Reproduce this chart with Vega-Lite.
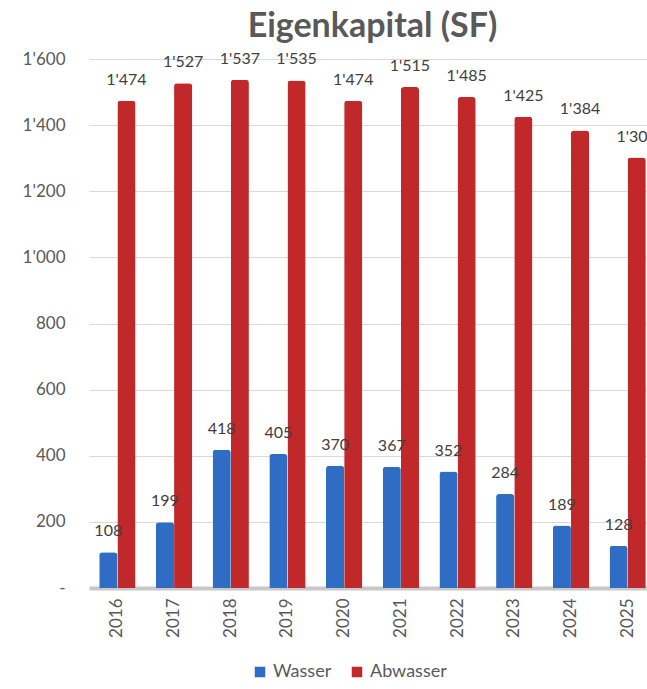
{
  "$schema": "https://vega.github.io/schema/vega-lite/v6.json",
  "width": 567,
  "height": 529,
  "autosize": "none",
  "padding": {"left": 89, "top": 59, "right": 0, "bottom": 101},
  "background": "white",
  "config": {
    "locale": {"number": {"decimal": ".", "thousands": "'", "grouping": [3], "currency": ["", ""]}},
    "view": {"stroke": null},
    "font": "Lato"
  },
  "title": {"text": "Eigenkapital (SF)", "fontSize": 34, "font": "Lato", "fontWeight": "bold", "color": "#595959", "offset": 6},
  "data": {"values": [
    {"Jahr": "2016", "Art": "Wasser", "Wert": 108},
    {"Jahr": "2017", "Art": "Wasser", "Wert": 199},
    {"Jahr": "2018", "Art": "Wasser", "Wert": 418},
    {"Jahr": "2019", "Art": "Wasser", "Wert": 405},
    {"Jahr": "2020", "Art": "Wasser", "Wert": 370},
    {"Jahr": "2021", "Art": "Wasser", "Wert": 367},
    {"Jahr": "2022", "Art": "Wasser", "Wert": 352},
    {"Jahr": "2023", "Art": "Wasser", "Wert": 284},
    {"Jahr": "2024", "Art": "Wasser", "Wert": 189},
    {"Jahr": "2025", "Art": "Wasser", "Wert": 128},
    {"Jahr": "2016", "Art": "Abwasser", "Wert": 1474},
    {"Jahr": "2017", "Art": "Abwasser", "Wert": 1527},
    {"Jahr": "2018", "Art": "Abwasser", "Wert": 1537},
    {"Jahr": "2019", "Art": "Abwasser", "Wert": 1535},
    {"Jahr": "2020", "Art": "Abwasser", "Wert": 1474},
    {"Jahr": "2021", "Art": "Abwasser", "Wert": 1515},
    {"Jahr": "2022", "Art": "Abwasser", "Wert": 1485},
    {"Jahr": "2023", "Art": "Abwasser", "Wert": 1425},
    {"Jahr": "2024", "Art": "Abwasser", "Wert": 1384},
    {"Jahr": "2025", "Art": "Abwasser", "Wert": 1302}
  ]},
  "encoding": {
    "x": {
      "field": "Jahr", "type": "nominal", "title": null,
      "scale": {"paddingInner": 0.36, "paddingOuter": 0.18},
      "axis": {"labelAngle": -90, "labelFontSize": 17, "labelColor": "#595959", "labelFont": "Lato", "ticks": false, "domainColor": "#c8c8c8", "domainWidth": 4, "labelPadding": 10}
    },
    "xOffset": {"field": "Art", "type": "nominal", "sort": ["Wasser", "Abwasser"]},
    "y": {
      "field": "Wert", "type": "quantitative", "title": null,
      "scale": {"domain": [0, 1600], "nice": false},
      "axis": {"values": [0, 200, 400, 600, 800, 1000, 1200, 1400, 1600], "format": ",d", "labelExpr": "datum.value == 0 ? '-' : datum.label", "labelFontSize": 17, "labelColor": "#595959", "labelFont": "Lato", "ticks": false, "domain": false, "gridColor": "#d9d9d9", "labelPadding": 24}
    }
  },
  "layer": [
    {
      "mark": {"type": "bar", "cornerRadiusTopLeft": 3, "cornerRadiusTopRight": 3},
      "encoding": {
        "color": {
          "field": "Art", "type": "nominal", "title": null,
          "sort": ["Wasser", "Abwasser"],
          "scale": {"domain": ["Wasser", "Abwasser"], "range": ["#2f6cc4", "#c0282a"]},
          "legend": {"orient": "none", "legendX": 162, "legendY": 604, "direction": "horizontal", "symbolType": "square", "symbolSize": 110, "labelFontSize": 18, "labelColor": "#595959", "labelFont": "Lato", "columnPadding": 16, "labelOffset": 4}
        }
      }
    },
    {
      "mark": {"type": "text", "baseline": "alphabetic", "dy": -16, "fontSize": 16, "font": "Lato", "color": "#404040"},
      "encoding": {
        "text": {"field": "Wert", "type": "quantitative", "format": ",d"}
      }
    }
  ]
}
